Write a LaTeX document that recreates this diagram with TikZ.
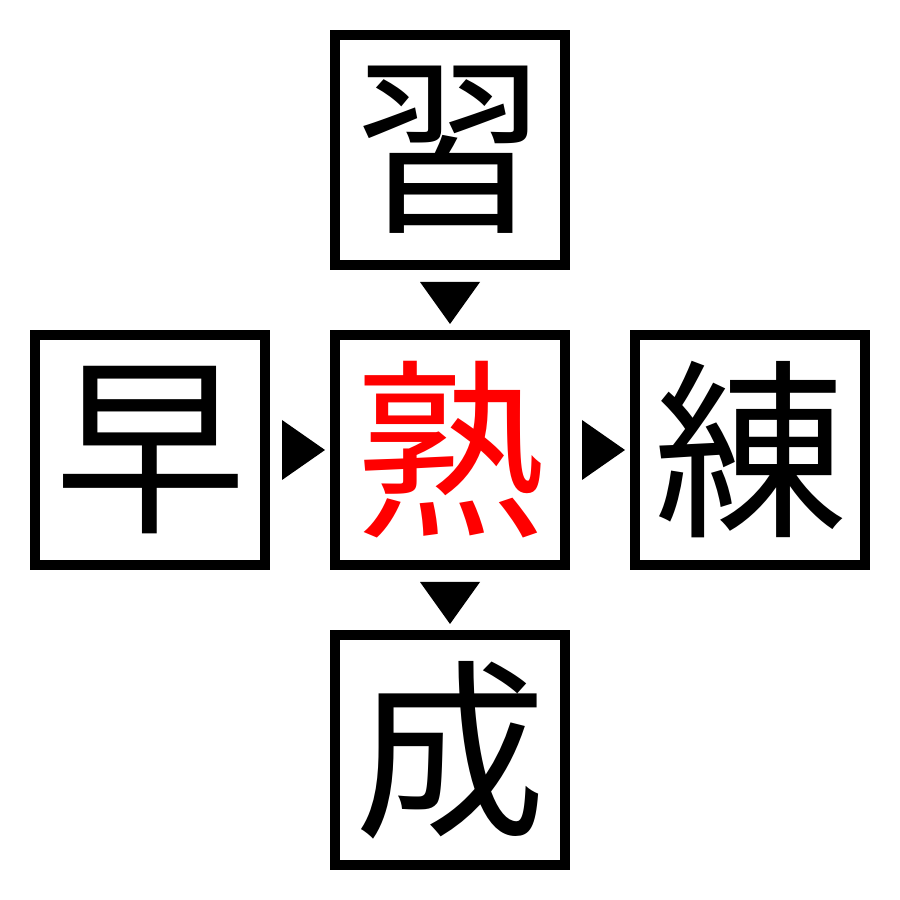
\documentclass[tikz,border=0pt]{standalone}
\usepackage{fontspec}
\usepackage{tikz}
\usetikzlibrary{calc}
\newfontfamily\cjk{Noto Sans CJK JP}

\tikzset{
    kanjibox/.style={draw, line width=10pt, minimum size=230pt, inner sep=0pt,
        font=\cjk\fontsize{192}{192}\selectfont},
    pointer/.style={fill=black}
}

\begin{document}
\begin{tikzpicture}[x=1pt,y=1pt]
    \useasboundingbox (0,0) rectangle (900,900);

    % Boxes
    \node[kanjibox] (center) at (450,450) {\textcolor{red}{熟}};
    \node[kanjibox] (top) at (450,750) {習};
    \node[kanjibox] (left) at (150,450) {早};
    \node[kanjibox] (right) at (750,450) {練};
    \node[kanjibox] (bottom) at (450,150) {成};

    % Pointers
    \fill[pointer] ($(top.south)+(-30,-12)$) -- ++(60,0) -- ($(center.north)+(0,6)$) -- cycle;
    \fill[pointer] ($(center.south)+(-30,-12)$) -- ++(60,0) -- ($(bottom.north)+(0,6)$) -- cycle;
    \fill[pointer] ($(left.east)+(12,30)$) -- ++(0,-60) -- ($(center.west)+(-5,0)$) -- cycle;
    \fill[pointer] ($(center.east)+(12,30)$) -- ++(0,-60) -- ($(right.west)+(-5,0)$) -- cycle;

\end{tikzpicture}
\end{document}
